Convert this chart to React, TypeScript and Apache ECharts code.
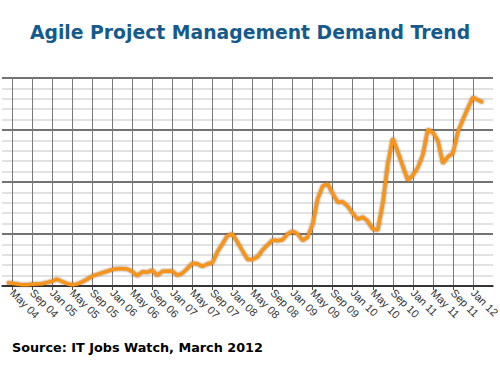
import React, { useEffect, useRef } from "react";
import * as echarts from "echarts";

// Monthly demand index, Apr 2004 .. Mar 2012
const demand2004 = [0.31, 0.27, 0.19, 0.11, 0.13, 0.16, 0.19, 0.22, 0.33]; // Apr-Dec 04
const demand2005 = [0.46, 0.65, 0.43, 0.22, 0.12, 0.18, 0.40, 0.64, 0.94, 1.11, 1.27, 1.42];
const demand2006 = [1.58, 1.66, 1.67, 1.63, 1.38, 0.98, 1.37, 1.32, 1.52, 1.01, 1.41, 1.43];
const demand2007 = [1.44, 1.01, 1.23, 1.68, 2.18, 2.13, 1.87, 2.12, 2.24, 3.30, 4.04, 4.84];
const demand2008 = [5.0, 4.21, 3.38, 2.55, 2.54, 2.80, 3.46, 3.95, 4.42, 4.35, 4.44, 5.0];
const demand2009 = [5.27, 5.02, 4.38, 4.69, 5.93, 8.37, 9.6, 9.82, 8.89, 8.06, 8.1, 7.66];
const demand2010 = [6.99, 6.40, 6.64, 6.23, 5.48, 5.37, 7.94, 11.73, 14.2, 12.9, 11.53, 10.15];
const demand2011 = [10.65, 11.38, 12.6, 15.06, 14.76, 13.98, 11.77, 12.43, 12.76, 14.84, 16.0, 17.12];
const demand2012 = [18.14, 17.88, 17.64]; // Jan-Mar 12

const monthNames = ["Jan", "Feb", "Mar", "Apr", "May", "Jun", "Jul", "Aug", "Sep", "Oct", "Nov", "Dec"];
const labelMonths = ["Jan", "May", "Sep"];
const lastLabel = "Jan 12";
const axisStart = { year: 2004, month: 2 }; // Mar 04
const axisMonths = 99; // Mar 04 .. May 12

const titleText = "Agile Project Management Demand Trend";
const sourceText = "Source: IT Jobs Watch, March 2012";

export default function App() {
  const ref = useRef<HTMLDivElement>(null);
  useEffect(() => {
    if (!ref.current) return;
    const chart = echarts.init(ref.current, undefined, { renderer: "svg" });
    const categories: string[] = [];
    for (let i = 0; i < axisMonths; i++) {
      const t = axisStart.month + i;
      const y = axisStart.year + Math.floor(t / 12);
      const m = t % 12;
      categories.push(monthNames[m] + " " + String(y % 100).padStart(2, "0"));
    }
    const values = [
      ...demand2004, ...demand2005, ...demand2006, ...demand2007,
      ...demand2008, ...demand2009, ...demand2010, ...demand2011, ...demand2012,
    ];
    const data: (number | null)[] = [null, ...values];
    while (data.length < categories.length) data.push(null);
    const lastIdx = categories.indexOf(lastLabel);
    const isLabel = (i: number) => i <= lastIdx && labelMonths.includes(categories[i].slice(0, 3));

    chart.setOption({
      animation: false,
      title: [
        {
          text: titleText,
          left: "center",
          top: 18,
          textStyle: { fontFamily: "DejaVu Sans", fontWeight: "bold", fontSize: 18.8, color: "#145a8c" },
        },
        {
          text: sourceText,
          left: 7,
          top: 336,
          textStyle: { fontFamily: "DejaVu Sans", fontWeight: "bold", fontSize: 12.8, color: "#000" },
        },
      ],
      grid: { left: 2, right: 7, top: 78, bottom: 79, containLabel: false, outerBoundsMode: "none" },
      xAxis: {
        type: "category",
        data: categories,
        boundaryGap: false,
        axisLine: { show: true, lineStyle: { color: "#222", width: 1.5 } },
        axisTick: { show: true, interval: (i: number) => isLabel(i), length: 4, lineStyle: { color: "#444" } },
        splitLine: { show: true, interval: (i: number) => isLabel(i), lineStyle: { color: "#7a7a7a", width: 1 } },
        axisLabel: {
          interval: (i: number) => isLabel(i),
          rotate: -45,
          fontFamily: "Liberation Sans",
          fontSize: 11,
          color: "#333",
          margin: 5,
        },
      },
      yAxis: {
        type: "value",
        min: 0,
        max: 20,
        interval: 5,
        axisLine: { show: false },
        axisTick: { show: false },
        axisLabel: { show: false },
        splitLine: { show: true, lineStyle: { color: "#444", width: 1.5 } },
        minorTick: { show: false, splitNumber: 5 },
        minorSplitLine: { show: true, lineStyle: { color: "#e2e2e2", width: 2 } },
      },
      series: [
        {
          type: "line",
          data,
          showSymbol: false,
          smooth: false,
          connectNulls: false,
          lineStyle: {
            color: "#f7941d",
            width: 3.5,
            shadowColor: "rgba(90,50,0,0.7)",
            shadowBlur: 2,
          },
          z: 5,
        },
      ],
    });
    return () => chart.dispose();
  }, []);
  return <div ref={ref} style={{ width: 500, height: 365, position: "absolute", left: 0, top: 0 }} />;
}
